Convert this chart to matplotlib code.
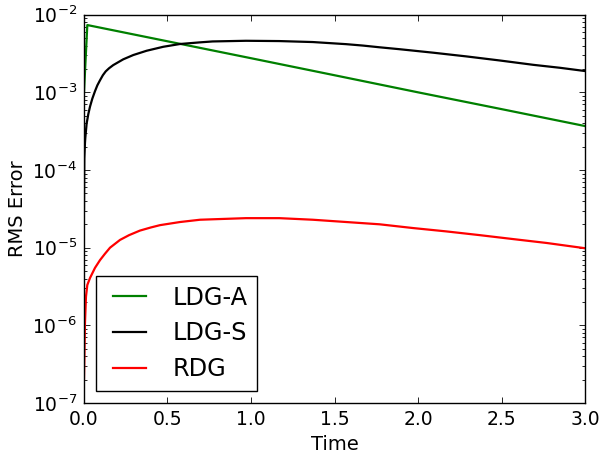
import matplotlib
matplotlib.use('Agg')
import matplotlib.pyplot as plt

##### data #####
t_ldga = [0.0, 0.02, 0.5, 1.0, 1.5, 2.0, 2.5, 3.0]
err_ldga = [1.0e-3, 7.35e-3, 4.54e-3, 2.75e-3, 1.66e-3, 1.00e-3, 6.08e-4, 3.68e-4]

t_ldgs = [0.0, 0.002, 0.006, 0.008, 0.016, 0.026, 0.036, 0.05, 0.066, 0.08,
          0.096, 0.113, 0.13, 0.15, 0.175, 0.235, 0.295, 0.375, 0.475, 0.575,
          0.695, 0.77, 0.97, 1.17, 1.37, 1.57, 1.67, 1.77, 1.89, 2.09,
          2.29, 2.49, 2.69, 2.85, 3.0]
err_ldgs = [3.0e-5, 1.41e-4, 2.24e-4, 2.60e-4, 3.98e-4, 5.25e-4, 6.53e-4, 8.3e-4,
            1.035e-3, 1.23e-3, 1.43e-3, 1.66e-3, 1.86e-3, 2.04e-3, 2.24e-3, 2.66e-3,
            3.02e-3, 3.43e-3, 3.86e-3, 4.19e-3, 4.40e-3, 4.52e-3, 4.61e-3, 4.57e-3,
            4.44e-3, 4.17e-3, 4.0e-3, 3.80e-3, 3.59e-3, 3.24e-3, 2.90e-3, 2.57e-3,
            2.26e-3, 2.07e-3, 1.88e-3]

t_rdg = [0.0, 0.006, 0.012, 0.02, 0.036, 0.066, 0.096, 0.125, 0.156, 0.216,
         0.27, 0.335, 0.4, 0.455, 0.575, 0.695, 0.77, 0.97, 1.17, 1.37,
         1.57, 1.77, 1.97, 2.17, 2.37, 2.57, 2.77, 3.0]
err_rdg = [2.0e-7, 1.07e-6, 2.34e-6, 3.31e-6, 4.07e-6, 5.50e-6, 6.92e-6, 8.32e-6,
           1.0e-5, 1.26e-5, 1.45e-5, 1.66e-5, 1.82e-5, 1.95e-5, 2.14e-5, 2.29e-5,
           2.32e-5, 2.40e-5, 2.40e-5, 2.29e-5, 2.14e-5, 2.00e-5, 1.79e-5, 1.62e-5,
           1.45e-5, 1.29e-5, 1.15e-5, 9.84e-6]

fig = plt.figure(figsize=(6.05, 4.58), dpi=100, facecolor='w')
ax = fig.add_subplot(111)
fig.subplots_adjust(left=0.1388, right=0.967, bottom=0.120, top=0.968)

ax.plot(t_ldga, err_ldga, color='g', lw=1.6, label='LDG-A')
ax.plot(t_ldgs, err_ldgs, color='k', lw=1.6, label='LDG-S')
ax.plot(t_rdg, err_rdg, color='r', lw=1.6, label='RDG')

ax.set_yscale('log')
ax.set_xlim(0, 3)
ax.set_ylim(1e-7, 1e-2)

ax.tick_params(which='both', direction='in', top=True, right=True, labelsize=13.5, pad=5)
ax.tick_params(which='major', length=4, width=0.6)
ax.tick_params(which='minor', length=2, width=0.6)
for sp in ax.spines.values():
    sp.set_linewidth(1.0)

ax.set_xlabel('Time', fontsize=14)
ax.set_ylabel('RMS Error', fontsize=14)

leg = ax.legend(loc='lower left', fontsize=17.25, numpoints=2, fancybox=False,
                framealpha=1, edgecolor='k', borderpad=0.4, labelspacing=0.5,
                handlelength=2.0, handletextpad=0.8, borderaxespad=0.5)
leg.get_frame().set_linewidth(1.0)

plt.savefig('out.png', dpi=100, facecolor='w')
